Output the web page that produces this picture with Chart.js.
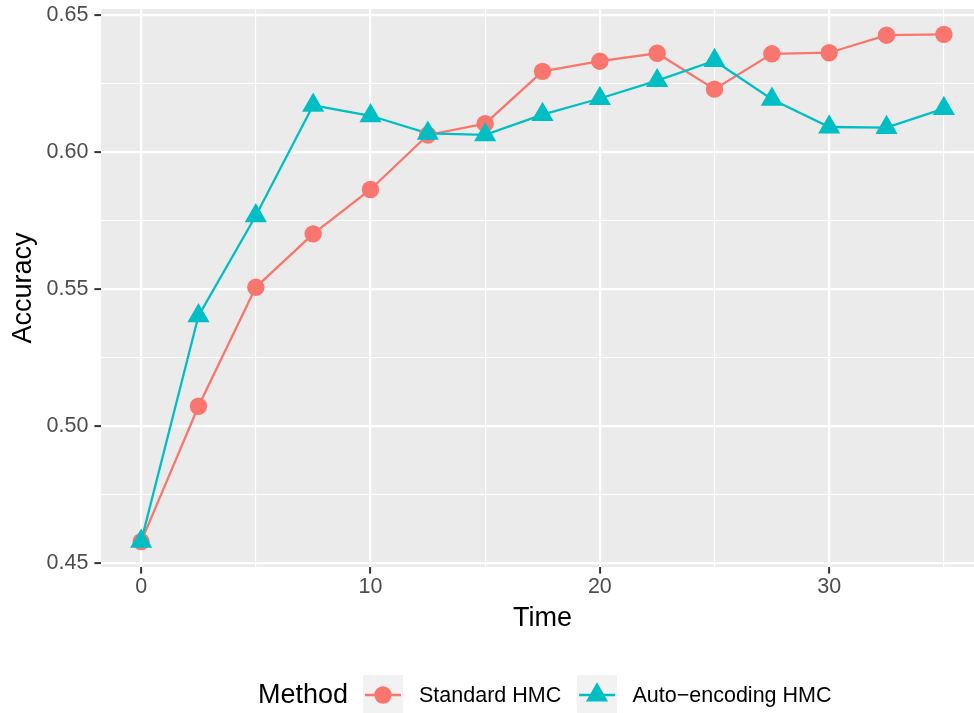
<!DOCTYPE html>
<html>
<head>
<meta charset="utf-8">
<script src="https://cdn.jsdelivr.net/npm/chart.js@4/dist/chart.umd.min.js"></script>
<style>
  html, body { margin: 0; padding: 0; background: #ffffff; overflow: hidden; }
  #wrap { width: 990px; height: 713px; }
</style>
</head>
<body>
<div id="wrap"><canvas id="c" width="990" height="713"></canvas></div>
<script>
// ---- data ----
const time = [0, 2.5, 5, 7.5, 10, 12.5, 15, 17.5, 20, 22.5, 25, 27.5, 30, 32.5, 35];
const standardHMC = [0.4579, 0.5073, 0.5507, 0.5702, 0.5864, 0.6063, 0.6104, 0.6295, 0.6332, 0.6361, 0.6230, 0.6359, 0.6363, 0.6427, 0.6430];
const autoEncodingHMC = [0.4580, 0.5403, 0.5768, 0.6171, 0.6133, 0.6069, 0.6063, 0.6137, 0.6196, 0.6261, 0.6334, 0.6193, 0.6092, 0.6090, 0.6159];
const seriesNames = ['Standard HMC', 'Auto\u2212encoding HMC'];
const legendTitle = 'Method';
const xTitle = 'Time';
const yTitle = 'Accuracy';
const xMajorTicks = [0, 10, 20, 30];
const xMinorTicks = [5, 15, 25, 35];
const yMajorTicks = [0.45, 0.50, 0.55, 0.60, 0.65];
const yMinorTicks = [0.475, 0.525, 0.575, 0.625];

// ---- style ----
const RED = '#F8766D';
const TEAL = '#00BFC4';
const FONT = '"Liberation Sans", Arial, Helvetica, sans-serif';
const CIRCLE_R = 8.7;
const TRI_R = 12.8;
const LINE_W = 2.3;

// ggplot-like 5% expansion of the data range
function expand(lo, hi) { const d = (hi - lo) * 0.05; return [lo - d, hi + d]; }
const allY = standardHMC.concat(autoEncodingHMC);
const [yMin, yMax] = expand(Math.min(...allY), Math.max(...allY));
const [xMin, xMax] = expand(Math.min(...time), Math.max(...time));

const toXY = vals => time.map((t, i) => ({ x: t, y: vals[i] }));
const near = (a, list) => list.some(v => Math.abs(v - a) < 1e-9);

const panelBg = {
  id: 'panelBg',
  beforeDraw(chart) {
    const { ctx, chartArea: a } = chart;
    ctx.save();
    ctx.fillStyle = '#EBEBEB';
    ctx.fillRect(a.left, a.top, a.right - a.left, a.bottom - a.top);
    ctx.restore();
  }
};

// legend drawn below the panel: title, then key boxes with line + marker
const bottomLegend = {
  id: 'bottomLegend',
  afterDraw(chart) {
    const ctx = chart.ctx;
    const cy = 695;
    ctx.save();
    ctx.textBaseline = 'middle';
    ctx.textAlign = 'left';
    ctx.fillStyle = '#000000';
    ctx.font = '27px ' + FONT;
    ctx.fillText(legendTitle, 258, cy + 1);

    const keys = [
      { x: 363, lx: 419, color: RED, style: 'circle', r: CIRCLE_R, name: seriesNames[0] },
      { x: 577, lx: 632.5, color: TEAL, style: 'triangle', r: TRI_R, name: seriesNames[1] }
    ];
    keys.forEach(k => {
      const w = 40, h = 40;
      ctx.fillStyle = '#F2F2F2';
      ctx.fillRect(k.x, cy - h / 2, w, h);
      ctx.strokeStyle = k.color;
      ctx.lineWidth = LINE_W;
      ctx.beginPath();
      ctx.moveTo(k.x + 2, cy);
      ctx.lineTo(k.x + w - 2, cy);
      ctx.stroke();
      ctx.fillStyle = k.color;
      Chart.helpers.drawPoint(ctx, { pointStyle: k.style, radius: k.r, rotation: 0, borderWidth: 0 }, k.x + w / 2, cy);
      ctx.fillStyle = '#000000';
      ctx.font = '21.5px ' + FONT;
      ctx.fillText(k.name, k.lx, cy + 1);
    });
    ctx.restore();
  }
};

function tickSet(major, minor) {
  return scale => {
    scale.ticks = major.concat(minor).sort((a, b) => a - b).map(v => ({ value: v }));
  };
}
// keep the panel edges where the layout padding puts them
function fixBox(size, prop) {
  return s => {
    s[prop] = size;
    s.paddingTop = 0; s.paddingBottom = 0; s.paddingLeft = 0; s.paddingRight = 0;
  };
}

new Chart(document.getElementById('c'), {
  type: 'line',
  data: {
    datasets: [
      { label: seriesNames[0], data: toXY(standardHMC), borderColor: RED, borderWidth: LINE_W, pointRadius: 0, order: 3, tension: 0 },
      { label: seriesNames[1], data: toXY(autoEncodingHMC), borderColor: TEAL, borderWidth: LINE_W, pointRadius: 0, order: 2, tension: 0 },
      { label: seriesNames[0], data: toXY(standardHMC), showLine: false, pointStyle: 'circle', pointRadius: CIRCLE_R, pointHoverRadius: CIRCLE_R,
        pointBackgroundColor: RED, pointBorderWidth: 0, borderColor: RED, order: 1 },
      { label: seriesNames[1], data: toXY(autoEncodingHMC), showLine: false, pointStyle: 'triangle', pointRadius: TRI_R, pointHoverRadius: TRI_R,
        pointBackgroundColor: TEAL, pointBorderWidth: 0, borderColor: TEAL, order: 0 }
    ]
  },
  options: {
    responsive: false,
    animation: false,
    events: [],
    layout: { autoPadding: false, padding: { left: 7, top: 9, right: 6, bottom: 78 } },
    plugins: { legend: { display: false }, tooltip: { enabled: false } },
    scales: {
      x: {
        type: 'linear',
        min: xMin, max: xMax,
        afterBuildTicks: tickSet(xMajorTicks, xMinorTicks),
        afterFit: fixBox(68, 'height'),
        border: { display: false },
        grid: {
          color: '#FFFFFF',
          lineWidth: c => near(c.tick.value, xMajorTicks) ? 2.2 : 1.1,
          drawTicks: true,
          tickLength: 6.6,
          tickWidth: 2,
          tickColor: c => near(c.tick.value, xMajorTicks) ? '#333333' : 'rgba(0,0,0,0)'
        },
        ticks: {
          autoSkip: false, maxRotation: 0, padding: 1,
          color: '#4D4D4D',
          font: { family: FONT, size: 21.5 },
          callback: v => near(v, xMajorTicks) ? String(v) : ''
        },
        title: { display: true, text: xTitle, color: '#000000', padding: 0, font: { family: FONT, size: 27 } }
      },
      y: {
        type: 'linear',
        min: yMin, max: yMax,
        afterBuildTicks: tickSet(yMajorTicks, yMinorTicks),
        afterFit: fixBox(94, 'width'),
        border: { display: false },
        grid: {
          color: '#FFFFFF',
          lineWidth: c => near(c.tick.value, yMajorTicks) ? 2.2 : 1.1,
          drawTicks: true,
          tickLength: 6.6,
          tickWidth: 2,
          tickColor: c => near(c.tick.value, yMajorTicks) ? '#333333' : 'rgba(0,0,0,0)'
        },
        ticks: {
          autoSkip: false, padding: 6,
          color: '#4D4D4D',
          font: { family: FONT, size: 21.5 },
          callback: v => near(v, yMajorTicks) ? v.toFixed(2) : ''
        },
        title: { display: true, text: yTitle, color: '#000000', padding: 0, font: { family: FONT, size: 27 } }
      }
    }
  },
  plugins: [panelBg, bottomLegend]
});
</script>
</body>
</html>
